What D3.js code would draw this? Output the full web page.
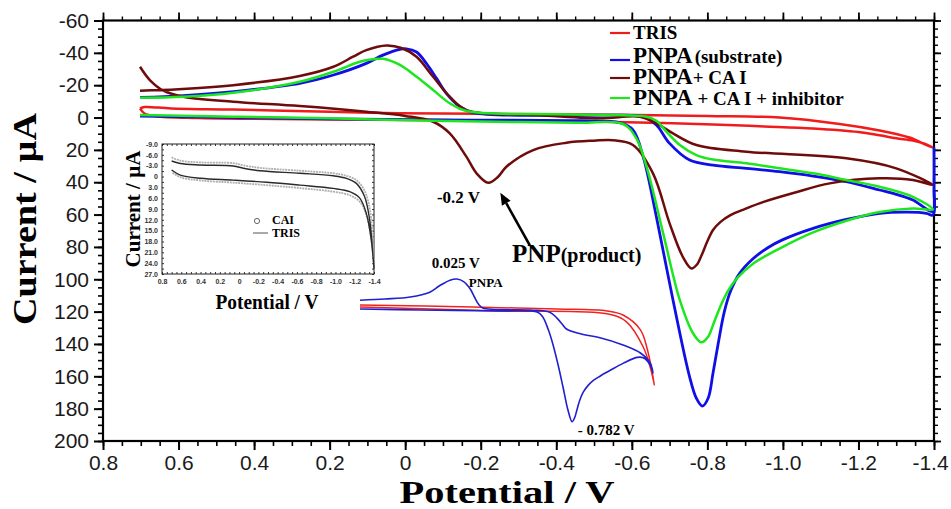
<!DOCTYPE html>
<html>
<head>
<meta charset="utf-8">
<script src="https://cdn.jsdelivr.net/npm/d3@7"></script>
<style>
body { margin: 0; background: #fff; }
</style>
</head>
<body>
<svg id="chart" width="951" height="509"></svg>
<script>
// main axis ticks
const xTicks = [0.8, 0.6, 0.4, 0.2, 0, -0.2, -0.4, -0.6, -0.8, -1.0, -1.2, -1.4];
const xTickLabels = ['0.8', '0.6', '0.4', '0.2', '0', '-0.2', '-0.4', '-0.6', '-0.8', '-1.0', '-1.2', '-1.4'];
const yTicks = [-60, -40, -20, 0, 20, 40, 60, 80, 100, 120, 140, 160, 180, 200];
const yTickLabels = ['-60', '-40', '-20', '0', '20', '40', '60', '80', '100', '120', '140', '160', '180', '200'];

// [potential V, current uA], forward scan then reverse scan
const tris = [
    [0.702, -5.5], [0.69, -2.5], [0.66, -0.8], [0.55, 0.3], [0.4, 0.8], [0.2, 1.2], [0, 1.5], [-0.2, 1.8],
    [-0.46, 2.5], [-0.62, 3], [-0.815, 4.3], [-0.95, 5.5], [-1.08, 6.8], [-1.2, 9], [-1.256, 11], [-1.3, 12.8],
    [-1.344, 14.2], [-1.375, 16.2], [-1.397, 18.6],
    [-1.37, 16], [-1.344, 13], [-1.3, 10.2], [-1.256, 8], [-1.15, 4], [-0.991, 0], [-0.8, -1], [-0.46, -1.9],
    [-0.2, -2.3], [0.014, -2.6], [0.2, -3.6], [0.456, -4.9], [0.62, -5.6], [0.69, -6.5], [0.702, -5.5]
];
const pnpa = [
    [0.702, -0.9], [0.455, 0], [0.2, 0.8], [-0.1, 1.5], [-0.462, 2], [-0.568, 3.2], [-0.603, 7.7], [-0.63, 24.2],
    [-0.665, 61.3], [-0.709, 112.8], [-0.753, 160.3], [-0.771, 173.6], [-0.787, 178.4], [-0.802, 173.6],
    [-0.815, 158], [-0.83, 138], [-0.845, 120], [-0.862, 107], [-0.885, 96.5], [-0.92, 87.5], [-0.96, 80.5],
    [-1.0, 75.5], [-1.08, 68.5], [-1.168, 63], [-1.256, 59.2], [-1.33, 58.5], [-1.38, 59.2], [-1.397, 60.3],
    [-1.4, 40], [-1.4, 19], [-1.4, 45], [-1.397, 58],
    [-1.344, 51], [-1.3, 47.5], [-1.256, 44.8], [-1.168, 39.7], [-1.08, 36.2], [-0.991, 33.5], [-0.903, 31.4],
    [-0.815, 29.4], [-0.753, 26.3], [-0.7, 16], [-0.665, 4.6], [-0.63, -0.5], [-0.55, -1.5], [-0.4, -1.3],
    [-0.18, -3], [-0.145, -6.7], [-0.109, -15], [-0.083, -24.2], [-0.056, -33.5], [-0.03, -40.5],
    [-0.003, -42.5], [0.014, -42.2], [0.059, -38.6], [0.103, -33.5], [0.19, -26.3], [0.279, -21.1],
    [0.455, -16], [0.588, -13.6], [0.702, -12.4]
];
const pnpaCA = [
    [0.702, -31.4], [0.676, -23.2], [0.64, -16.6], [0.588, -12.9], [0.455, -9.8], [0.279, -7.1], [0.103, -3.6],
    [0, -1], [-0.074, 2.6], [-0.118, 9.8], [-0.162, 24.2], [-0.189, 34.5], [-0.22, 40.3], [-0.246, 36.6],
    [-0.268, 30.4], [-0.339, 20.1], [-0.427, 15.6], [-0.5, 14.3], [-0.55, 14], [-0.603, 17], [-0.656, 34.5],
    [-0.7, 65.4], [-0.735, 86.1], [-0.758, 93.3], [-0.772, 91], [-0.785, 85], [-0.8, 76.5], [-0.815, 69.5],
    [-0.835, 64.5], [-0.86, 60.5], [-0.9, 56.5], [-0.947, 52.3],
    [-1.03, 46.5], [-1.124, 40.7], [-1.256, 37.6], [-1.344, 38.6], [-1.397, 41.7],
    [-1.3, 31.4], [-1.168, 25.2], [-0.903, 21.1], [-0.771, 17], [-0.709, 9.8], [-0.665, 3.6], [-0.621, -0.5],
    [-0.515, 0.5], [-0.35, -1.5], [-0.162, -4.6], [-0.118, -12.9], [-0.074, -25.2], [-0.03, -37.6],
    [0.01, -43], [0.049, -44.6], [0.103, -41.7], [0.138, -37.6], [0.19, -31.4], [0.279, -25.7], [0.455, -20],
    [0.6, -17.5], [0.702, -16.6]
];
const pnpaCAInh = [
    [0.702, -1.5], [0.455, -0.5], [0.2, 0.5], [-0.074, 2], [-0.3, 2.8], [-0.462, 3.2], [-0.577, 4], [-0.612, 12.9],
    [-0.639, 30.4], [-0.683, 71.6], [-0.727, 112.8], [-0.762, 133.4], [-0.784, 139], [-0.802, 135.5],
    [-0.817, 127], [-0.835, 116.5], [-0.855, 107], [-0.88, 99], [-0.92, 90.5], [-0.991, 81], [-1.08, 71],
    [-1.168, 63.8], [-1.256, 58.4], [-1.344, 56.2], [-1.397, 56.8],
    [-1.344, 49], [-1.256, 42.8], [-1.168, 38.6], [-1.08, 34.5], [-0.991, 31.4], [-0.903, 28.3], [-0.815, 26],
    [-0.771, 23.2], [-0.727, 17], [-0.692, 8.8], [-0.665, 2], [-0.639, -0.5], [-0.55, -1.5], [-0.4, -2],
    [-0.162, -4], [-0.118, -8.8], [-0.074, -17], [-0.03, -25.2], [0.014, -32.5], [0.059, -36.3], [0.086, -36],
    [0.12, -34.5], [0.19, -28.3], [0.279, -22.1], [0.455, -15.3], [0.588, -12.8], [0.702, -12.2]
];

const legendItems = ['TRIS', 'PNPA', 'PNPA', 'PNPA'];
const legendExtra = ['', '(substrate)', '+ CA I', ' + CA I + inhibitor'];
const seriesColors = ['#f01c1c', '#1010e6', '#6e0c0c', '#1ee61e'];

// upper-left inset: TRIS and CAI blanks
const inXTicks = [0.8, 0.6, 0.4, 0.2, 0, -0.2, -0.4, -0.6, -0.8, -1.0, -1.2, -1.4];
const inYTicks = [-9, -6, -3, 0, 3, 6, 9, 12, 15, 18, 21, 24, 27];
const inYTickLabels = ['-9.0', '-6.0', '-3.0', '0', '3.0', '6.0', '9.0', '12.0', '15.0', '18.0', '21.0', '24.0', '27.0'];
const insetTris = [
    [0.70, -4.3], [0.61, -3.6], [0.4, -3.2], [0.06, -2.9], [-0.045, -2.3], [-0.217, -1.6], [-0.63, -0.9],
    [-0.976, -0.2], [-1.114, 0.5], [-1.217, 1.9], [-1.303, 5.6], [-1.355, 12], [-1.39, 22.2], [-1.40, 25.4],
    [-1.372, 17.6], [-1.32, 10.2], [-1.252, 6], [-1.148, 4.2], [-0.976, 3.3], [-0.63, 2.4], [-0.286, 1.6],
    [0.06, 1], [0.4, 0.5], [0.61, -0.4], [0.70, -1.8]
];
const insetCai = [
    [0.70, -5.3], [0.61, -4.4], [0.4, -3.9], [0.06, -3.7], [-0.045, -3.1], [-0.217, -2.4], [-0.63, -1.6],
    [-0.976, -0.9], [-1.114, -0.2], [-1.217, 1.0], [-1.303, 4.0], [-1.36, 9.5], [-1.39, 19], [-1.40, 25.4],
    [-1.378, 18.5], [-1.33, 11.5], [-1.26, 7.2], [-1.148, 5.2], [-0.976, 4.2], [-0.63, 3.2], [-0.286, 2.4],
    [0.06, 1.7], [0.4, 1.1], [0.61, 0.2], [0.70, -1.2]
];

// lower inset: PNPA vs TRIS, no axes
const subPnpa = [
    [0.70, 0], [0.27, 1.2], [-0.30, 2.5], [-0.57, 3.8], [-0.61, 10], [-0.65, 26], [-0.68, 42.5], [-0.72, 70],
    [-0.755, 97.5], [-0.79, 126], [-0.82, 141], [-0.838, 136], [-0.855, 126], [-0.875, 114], [-0.9, 104],
    [-0.935, 95.5], [-0.975, 89], [-1.02, 84], [-1.1, 76],
    [-1.185, 68], [-1.285, 60.5], [-1.33, 61], [-1.38, 70], [-1.40, 80],
    [-1.38, 67.5], [-1.31, 55], [-1.185, 45], [-1.02, 36], [-0.88, 31], [-0.78, 25], [-0.75, 19], [-0.71, 11],
    [-0.66, 4], [-0.52, 1.2], [-0.18, -1.2], [-0.15, -6], [-0.12, -15], [-0.09, -25], [-0.045, -34],
    [0.005, -37.5], [0.055, -36], [0.13, -29], [0.2, -21], [0.34, -15], [0.52, -12.5], [0.70, -11]
];
const subTris = [
    [0.70, -5], [-0.11, -2.5], [-0.71, 0], [-1.07, 2.5], [-1.185, 7.5], [-1.31, 26], [-1.36, 51], [-1.41, 95],
    [-1.385, 76], [-1.33, 47.5], [-1.21, 16], [-1.07, 6], [-0.30, 2.5], [0.70, -2.5]
];

const serif = '"Liberation Serif", "Times New Roman", serif';
const sans = '"Liberation Sans", Arial, sans-serif';

let svg = d3.select('#chart');

let x = d3.scaleLinear().domain([0.8, -1.4]).range([103, 934]);
let y = d3.scaleLinear().domain([-60, 200]).range([20.5, 441]);

function styleTicks(g, w){
    g.select('.domain').remove();
    g.selectAll('line').attr('stroke', '#000').attr('stroke-width', w);
}

function drawMainAxes(){
    let xMinor = d3.range(0.8, -1.41, -0.05);
    let yMinor = d3.range(-60, 201, 5);

    svg.append('g').attr('transform', 'translate(0,441)')
        .call(d3.axisBottom(x).tickValues(xMinor).tickSize(5).tickFormat(''))
        .call(g => styleTicks(g, 1.6));
    svg.append('g').attr('transform', 'translate(0,441)')
        .call(d3.axisBottom(x).tickValues(xTicks).tickSize(9).tickPadding(5)
            .tickFormat((d, i) => xTickLabels[i]))
        .call(g => styleTicks(g, 2))
        .call(g => g.selectAll('text').filter(d => d == -1.4).attr('dx', -4));

    svg.append('g').attr('transform', 'translate(0,20.5)')
        .call(d3.axisTop(x).tickValues(xMinor).tickSize(4).tickFormat(''))
        .call(g => styleTicks(g, 1.4));
    svg.append('g').attr('transform', 'translate(0,20.5)')
        .call(d3.axisTop(x).tickValues(xTicks).tickSize(8).tickFormat(''))
        .call(g => styleTicks(g, 1.8));

    svg.append('g').attr('transform', 'translate(103,0)')
        .call(d3.axisLeft(y).tickValues(yMinor).tickSize(5).tickFormat(''))
        .call(g => styleTicks(g, 1.6));
    svg.append('g').attr('transform', 'translate(103,0)')
        .call(d3.axisLeft(y).tickValues(yTicks).tickSize(9).tickPadding(5)
            .tickFormat((d, i) => yTickLabels[i]))
        .call(g => styleTicks(g, 2));

    svg.append('g').attr('transform', 'translate(934,0)')
        .call(d3.axisRight(y).tickValues(yMinor).tickSize(4).tickFormat(''))
        .call(g => styleTicks(g, 1.4));
    svg.append('g').attr('transform', 'translate(934,0)')
        .call(d3.axisRight(y).tickValues(yTicks).tickSize(7).tickFormat(''))
        .call(g => styleTicks(g, 1.8));

    svg.selectAll('g text')
        .attr('font-family', sans)
        .attr('font-size', 21)
        .attr('fill', '#1a1a1a');

    svg.append('rect')
        .attr('x', 103).attr('y', 20.5)
        .attr('width', 831).attr('height', 420.5)
        .attr('fill', 'none')
        .attr('stroke', '#000')
        .attr('stroke-width', 2.2);

    svg.append('text')
        .attr('transform', 'translate(36,219) rotate(-90)')
        .attr('text-anchor', 'middle')
        .attr('font-family', serif).attr('font-weight', 'bold')
        .attr('font-size', 33)
        .attr('textLength', 212).attr('lengthAdjust', 'spacingAndGlyphs')
        .text('Current / µA');

    svg.append('text')
        .attr('x', 507).attr('y', 503)
        .attr('text-anchor', 'middle')
        .attr('font-family', serif).attr('font-weight', 'bold')
        .attr('font-size', 31)
        .attr('textLength', 215).attr('lengthAdjust', 'spacingAndGlyphs')
        .text('Potential / V');
}

function drawMainCurves(){
    let line = d3.line()
        .x(d => x(d[0]))
        .y(d => y(d[1]))
        .curve(d3.curveCatmullRom.alpha(0.5));
    let series = [tris, pnpa, pnpaCA, pnpaCAInh];
    let order = [0, 1, 2, 3];
    svg.append('g').attr('id', 'curves')
        .selectAll('path')
        .data(order)
        .join('path')
        .attr('d', d => line(series[d]))
        .attr('fill', 'none')
        .attr('stroke', d => seriesColors[d])
        .attr('stroke-width', d => d == 1 ? 2.8 : 2.5)
        .attr('stroke-linejoin', 'round');
}

function drawLegend(){
    let rowsY = [39, 63, 84, 105];
    let lineY = [33, 60, 78, 98];
    let g = svg.append('g').attr('id', 'legend');
    g.selectAll('line')
        .data(legendItems)
        .join('line')
        .attr('x1', 610).attr('x2', 630)
        .attr('y1', (d, i) => lineY[i]).attr('y2', (d, i) => lineY[i])
        .attr('stroke', (d, i) => seriesColors[i])
        .attr('stroke-width', 2.2);
    g.selectAll('text')
        .data(legendItems)
        .join('text')
        .attr('x', 633)
        .attr('y', (d, i) => rowsY[i])
        .attr('font-family', serif).attr('font-weight', 'bold')
        .each(function(d, i){
            let t = d3.select(this);
            t.append('tspan')
                .attr('font-size', i == 0 ? 19 : 23)
                .text(d);
            if (legendExtra[i] != ''){
                t.append('tspan')
                    .attr('font-size', 19)
                    .attr('dx', i == 1 ? 2 : 0)
                    .text(legendExtra[i]);
            }
        });
}

function drawAnnotations(){
    // arrow from the product label to the -0.2 V peak
    let tail = [x(-0.33), y(79)];
    let head = [x(-0.252), y(46.5)];
    let ang = Math.atan2(head[1] - tail[1], head[0] - tail[0]);
    let len = 12, wid = 5;
    let bx = head[0] - len * Math.cos(ang), by = head[1] - len * Math.sin(ang);
    svg.append('line')
        .attr('x1', tail[0]).attr('y1', tail[1])
        .attr('x2', bx).attr('y2', by)
        .attr('stroke', '#000').attr('stroke-width', 2.6);
    svg.append('path')
        .attr('d', 'M' + head[0] + ',' + head[1]
            + 'L' + (bx + wid * Math.sin(ang)) + ',' + (by - wid * Math.cos(ang))
            + 'L' + (bx - wid * Math.sin(ang)) + ',' + (by + wid * Math.cos(ang)) + 'Z')
        .attr('fill', '#000');

    svg.append('text')
        .attr('x', x(-0.084)).attr('y', y(53))
        .attr('font-family', serif).attr('font-weight', 'bold').attr('font-size', 17)
        .text('-0.2 V');

    let p = svg.append('text')
        .attr('x', x(-0.283)).attr('y', y(89.5))
        .attr('font-family', serif).attr('font-weight', 'bold');
    p.append('tspan').attr('font-size', 25).text('PNP');
    p.append('tspan').attr('font-size', 20).text('(product)');
}

function drawInsetTop(){
    let ix = d3.scaleLinear().domain([0.8, -1.4]).range([162, 374]);
    let iy = d3.scaleLinear().domain([-9, 27]).range([144, 274]);
    let g = svg.append('g').attr('id', 'inset1');

    g.append('g').attr('transform', 'translate(0,274)')
        .call(d3.axisBottom(ix).tickValues(d3.range(0.8, -1.41, -0.05)).tickSize(-2).tickFormat(''))
        .call(s => styleTicks(s, 0.8));
    g.append('g').attr('transform', 'translate(0,144)')
        .call(d3.axisTop(ix).tickValues(d3.range(0.8, -1.41, -0.05)).tickSize(-2).tickFormat(''))
        .call(s => styleTicks(s, 0.8));
    g.append('g').attr('transform', 'translate(162,0)')
        .call(d3.axisLeft(iy).tickValues(d3.range(-9, 27.1, 1.5)).tickSize(-2).tickFormat(''))
        .call(s => styleTicks(s, 0.8));
    g.append('g').attr('transform', 'translate(374,0)')
        .call(d3.axisRight(iy).tickValues(d3.range(-9, 27.1, 1.5)).tickSize(-2).tickFormat(''))
        .call(s => styleTicks(s, 0.8));

    let xl = g.append('g').attr('transform', 'translate(0,274)')
        .call(d3.axisBottom(ix).tickValues(inXTicks).tickSize(0).tickPadding(5)
            .tickFormat((d, i) => xTickLabels[i]));
    xl.select('.domain').remove();
    let yl = g.append('g').attr('transform', 'translate(162,0)')
        .call(d3.axisLeft(iy).tickValues(inYTicks).tickSize(0).tickPadding(4)
            .tickFormat((d, i) => inYTickLabels[i]));
    yl.select('.domain').remove();
    g.selectAll('text')
        .attr('font-family', sans).attr('font-weight', 'bold')
        .attr('font-size', 7).attr('fill', '#333');

    g.append('rect')
        .attr('x', 162).attr('y', 144).attr('width', 212).attr('height', 130)
        .attr('fill', 'none').attr('stroke', '#222').attr('stroke-width', 1);

    let line = d3.line()
        .x(d => ix(d[0]))
        .y(d => iy(d[1]))
        .curve(d3.curveCatmullRom.alpha(0.5));
    g.append('path').attr('d', line(insetCai))
        .attr('fill', 'none').attr('stroke', '#b0b0b0').attr('stroke-width', 1.8)
        .attr('stroke-dasharray', '2,0.8');
    g.append('path').attr('d', line(insetTris))
        .attr('fill', 'none').attr('stroke', '#2a2a2a').attr('stroke-width', 1.4);

    g.append('circle').attr('cx', 257).attr('cy', 221).attr('r', 2.6)
        .attr('fill', 'none').attr('stroke', '#555').attr('stroke-width', 0.9);
    g.append('line').attr('x1', 253).attr('x2', 268).attr('y1', 233).attr('y2', 233)
        .attr('stroke', '#555').attr('stroke-width', 1);
    g.append('text').attr('x', 272).attr('y', 224)
        .attr('font-family', serif).attr('font-weight', 'bold').attr('font-size', 12)
        .text('CAI');
    g.append('text').attr('x', 272).attr('y', 237)
        .attr('font-family', serif).attr('font-weight', 'bold').attr('font-size', 12)
        .text('TRIS');

    g.append('text')
        .attr('transform', 'translate(140,209) rotate(-90)')
        .attr('text-anchor', 'middle')
        .attr('font-family', serif).attr('font-weight', 'bold').attr('font-size', 20)
        .attr('textLength', 117).attr('lengthAdjust', 'spacingAndGlyphs')
        .text('Current / µA');
    g.append('text')
        .attr('x', 267).attr('y', 309)
        .attr('text-anchor', 'middle')
        .attr('font-family', serif).attr('font-weight', 'bold').attr('font-size', 20)
        .attr('textLength', 103).attr('lengthAdjust', 'spacingAndGlyphs')
        .text('Potential / V');
}

function drawInsetBottom(){
    let sx = d3.scaleLinear().domain([0.7, -1.4]).range([360, 653]);
    let sy = d3.scaleLinear().domain([-40, 160]).range([277, 437]);
    let line = d3.line()
        .x(d => sx(d[0]))
        .y(d => sy(d[1]))
        .curve(d3.curveCatmullRom.alpha(0.5));
    let g = svg.append('g').attr('id', 'inset2');
    g.append('path').attr('d', line(subTris))
        .attr('fill', 'none').attr('stroke', '#ee2424').attr('stroke-width', 1.5);
    g.append('path').attr('d', line(subPnpa))
        .attr('fill', 'none').attr('stroke', '#2020d0').attr('stroke-width', 1.6);

    g.append('text').attr('x', sx(0.185)).attr('y', sy(-51))
        .attr('font-family', serif).attr('font-weight', 'bold').attr('font-size', 15)
        .text('0.025 V');
    g.append('text').attr('x', sx(-0.08)).attr('y', sy(-27.5))
        .attr('font-family', serif).attr('font-weight', 'bold').attr('font-size', 13)
        .text('PNPA');
    g.append('text').attr('x', sx(-0.86)).attr('y', sy(157.5))
        .attr('font-family', serif).attr('font-weight', 'bold').attr('font-size', 15)
        .text('- 0.782 V');
}

drawMainAxes();
drawInsetTop();
drawInsetBottom();
drawMainCurves();
drawLegend();
drawAnnotations();
</script>
</body>
</html>
